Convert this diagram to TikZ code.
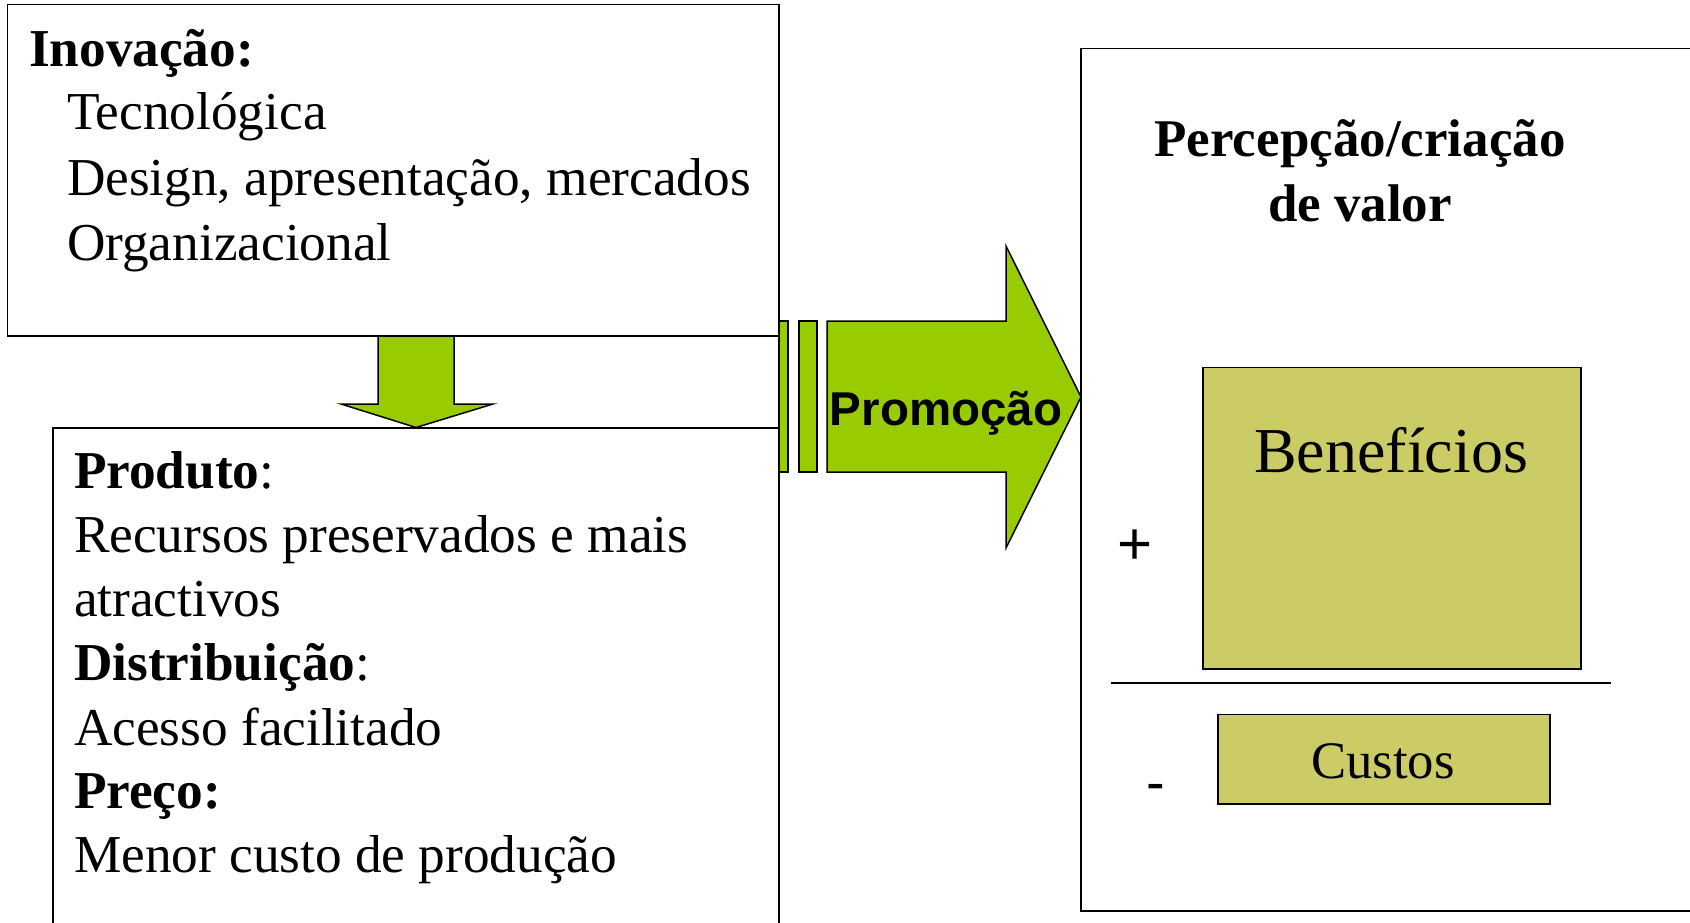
\documentclass[tikz,border=0pt]{standalone}
\usepackage{fontspec}
\setmainfont{Liberation Serif}
\newfontfamily\arialf{Liberation Sans}
\definecolor{arrowgreen}{HTML}{99CC00}
\definecolor{olivebox}{HTML}{CCCC66}
\tikzset{
  box/.style={draw=black, line width=1.5pt, inner sep=0pt, outer sep=0pt, anchor=north west},
  fillbox/.style={box, fill=olivebox},
  blockarrow/.style={draw=black, line width=1.5pt, fill=arrowgreen, line join=miter},
  txt/.style={inner sep=0pt, outer sep=0pt, anchor=base west, font=\fontsize{53.3}{64}\selectfont},
  ctxt/.style={inner sep=0pt, outer sep=0pt, anchor=base, font=\fontsize{53}{64}\selectfont}
}
\begin{document}
\begin{tikzpicture}[x=1pt,y=-1pt]
\useasboundingbox (0,0) rectangle (1690,923);
\clip (0,0) rectangle (1690,923);
% boxes
\node[box, minimum width=771.5pt, minimum height=331.7pt] (inov) at (7.5,4.3) {};
\node[box, minimum width=726pt, minimum height=520pt] (prod) at (53,428) {};
\node[box, minimum width=640pt, minimum height=862.5pt] (valor) at (1081,48.5) {};
\node[fillbox, minimum width=378pt, minimum height=301.5pt] (benef) at (1203,367.5) {};
\node[fillbox, minimum width=332pt, minimum height=89.4pt] (custos) at (1218,714.6) {};
% fraction line
\coordinate (fl) at (1111,683);
\coordinate (fr) at (1611,683);
\draw[line width=1.5pt] (fl) -- (fr);
% down arrow
\draw[blockarrow] (378,336) -- (454,336) -- (454,404) -- (493,404) -- (416,427.5) -- (341,404) -- (378,404) -- cycle;
% promo arrow
\draw[blockarrow] (779,321) rectangle (788,472);
\draw[blockarrow] (799,321) rectangle (817,472);
\draw[blockarrow] (827,321) -- (1006,321) -- (1006,246) -- (1081,397) -- (1006,548) -- (1006,472) -- (827,472) -- cycle;
\node[inner sep=0pt, anchor=base, font=\arialf\bfseries\fontsize{47.5}{57}\selectfont] (promo) at (946,425) {Promoção};
% top box text
\node[txt] (t1) at (29,67) {\textbf{Inovação:}};
\node[txt] (t2) at (67,130) {Tecnológica};
\node[txt] (t3) at (67,195) {Design, apresentação, mercados};
\node[txt] (t4) at (67,260) {Organizacional};
% bottom box text
\node[txt] (b1) at (74,488) {\textbf{Produto}:};
\node[txt] (b2) at (74,552) {Recursos preservados e mais};
\node[txt] (b3) at (74,616) {atractivos};
\node[txt] (b4) at (74,680) {\textbf{Distribuição}:};
\node[txt] (b5) at (74,745) {Acesso facilitado};
\node[txt] (b6) at (74,808) {\textbf{Preço:}};
\node[txt] (b7) at (74,872) {Menor custo de produção};
% right box text
\node[ctxt, font=\bfseries\fontsize{53}{64}\selectfont] (r1) at (1360,157) {Percepção/criação};
\node[ctxt, font=\bfseries\fontsize{53}{64}\selectfont] (r2) at (1360,221) {de valor};
\node[ctxt, font=\fontsize{64}{76}\selectfont] (bt) at (1391,472) {Benefícios};
\node[ctxt, font=\fontsize{52.7}{63}\selectfont] (ct) at (1383,778) {Custos};
\node[inner sep=0pt, font=\arialf\fontsize{60}{70}\selectfont] (plus) at (1135,547) {+};
\node[inner sep=0pt, font=\arialf\fontsize{56}{66}\selectfont] (minus) at (1156,793) {-};
\end{tikzpicture}
\end{document}
